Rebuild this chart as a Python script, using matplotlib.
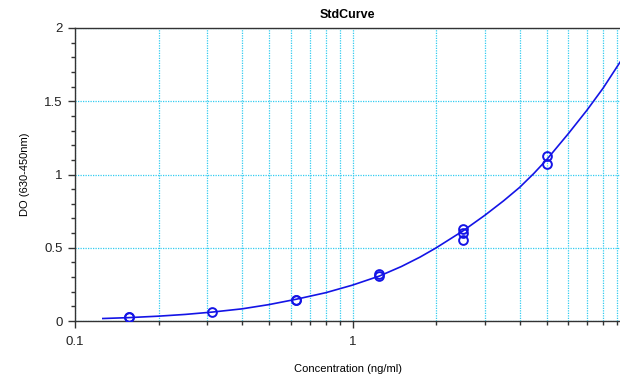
import matplotlib
matplotlib.use("Agg")
import matplotlib.pyplot as plt
from matplotlib.ticker import (LogLocator, MultipleLocator, FixedLocator,
                               NullFormatter, FormatStrFormatter)

plt.rcParams["font.family"] = ["Liberation Sans", "DejaVu Sans"]

# standards: concentration (ng/ml) and measured DO, replicates
conc = [0.156, 0.156, 0.3125, 0.625, 0.625, 1.25, 1.25, 2.5, 2.5, 2.5, 5.0, 5.0]
od = [0.03, 0.025, 0.06, 0.14, 0.145, 0.31, 0.32, 0.63, 0.60, 0.55, 1.125, 1.07]

# fitted curve
fit_x = [0.126, 0.156, 0.2, 0.25, 0.3125, 0.4, 0.5, 0.625, 0.8, 1.0, 1.25,
         1.5, 1.75, 2.0, 2.5, 3.0, 3.5, 4.0, 4.5, 5.0, 6.0, 7.0, 8.0, 9.3]
fit_y = [0.017, 0.023, 0.033, 0.045, 0.061, 0.083, 0.112, 0.148, 0.193, 0.245,
         0.307, 0.372, 0.436, 0.499, 0.615, 0.722, 0.82, 0.912, 1.007, 1.10,
         1.28, 1.44, 1.59, 1.78]

blue = "#1414e6"
grid_c = "#33ccf0"

fig = plt.figure(figsize=(6.2, 3.77), dpi=100)
ax = fig.add_axes([75 / 620, 1 - 321 / 377, 545 / 620, 293 / 377])

ax.plot(fit_x, fit_y, color=blue, lw=1.2, zorder=3)
ax.plot(conc, od, "o", mfc="none", mec=blue, mew=1.4, ms=6.3, zorder=4)

ax.set_xscale("log")
ax.set_xlim(0.1, 9.2)
ax.set_ylim(0, 2)

ax.xaxis.set_major_locator(FixedLocator([0.1, 1]))
ax.xaxis.set_major_formatter(FormatStrFormatter("%g"))
ax.xaxis.set_minor_locator(LogLocator(base=10, subs=range(2, 10)))
ax.xaxis.set_minor_formatter(NullFormatter())
ax.yaxis.set_major_locator(MultipleLocator(0.5))
ax.yaxis.set_major_formatter(FormatStrFormatter("%g"))
ax.yaxis.set_minor_locator(MultipleLocator(0.1))

ax.grid(True, which="both", axis="x", color=grid_c, ls=(0, (1, 1)), lw=0.9)
ax.grid(True, which="major", axis="y", color=grid_c, ls=(0, (1, 1)), lw=0.9)
ax.set_axisbelow(True)

for s in ["left", "bottom", "top"]:
    ax.spines[s].set_color("#333333")
    ax.spines[s].set_linewidth(1.0)
ax.spines["right"].set_visible(False)

ax.tick_params(which="major", length=5, width=1, color="#333333",
               labelsize=9.5, labelcolor="#222222", pad=4)
ax.tick_params(axis="x", which="major", pad=6)
ax.tick_params(which="minor", length=3, width=1, color="#333333")

ax.set_title("StdCurve", fontsize=9, fontweight="bold", pad=7)
ax.set_xlabel("Concentration (ng/ml)", fontsize=8, labelpad=11)
ax.set_ylabel("DO (630-450nm)", fontsize=8, labelpad=10)

fig.savefig("out.png", dpi=100)
